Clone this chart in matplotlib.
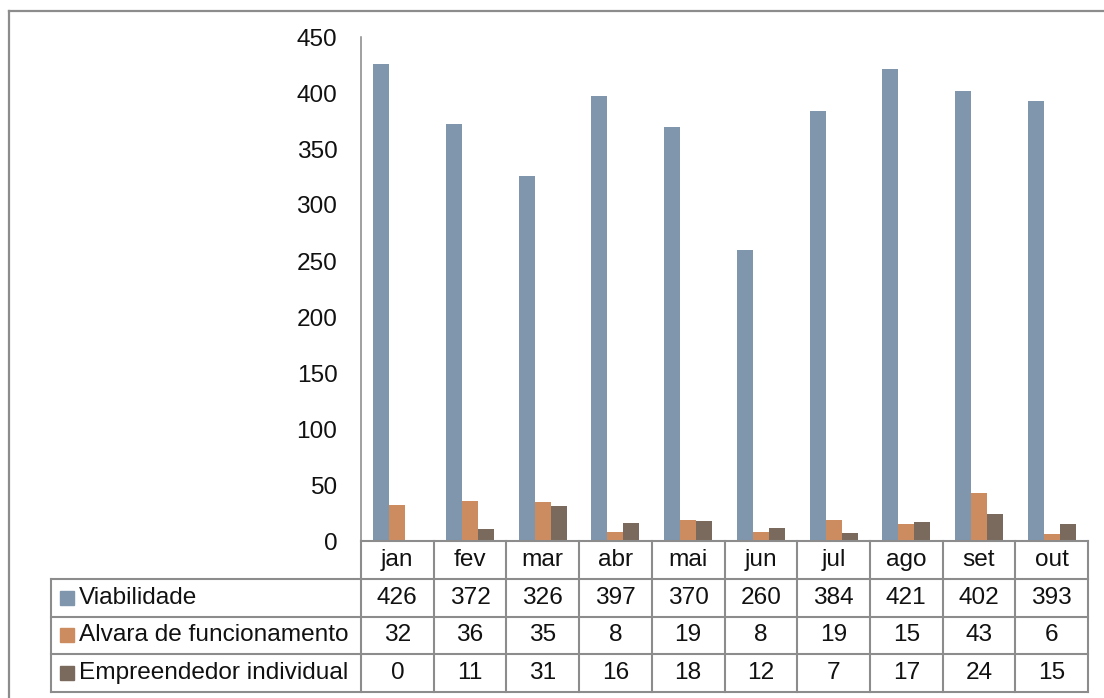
import matplotlib.pyplot as plt
from matplotlib.lines import Line2D

plt.rcParams['font.family'] = ['Liberation Sans', 'DejaVu Sans']

# dados
meses = ['jan', 'fev', 'mar', 'abr', 'mai', 'jun', 'jul', 'ago', 'set', 'out']
series = ['Viabilidade', 'Alvara de funcionamento', 'Empreendedor individual']
viabilidade = [426, 372, 326, 397, 370, 260, 384, 421, 402, 393]
alvara = [32, 36, 35, 8, 19, 8, 19, 15, 43, 6]
empreendedor = [0, 11, 31, 16, 18, 12, 7, 17, 24, 15]
cores = ['#7f96ad', '#cd8c5f', '#7a6a5e']

W, H = 1104, 698
fs = 17.6
fig = plt.figure(figsize=(W / 100, H / 100), dpi=100)

# area do grafico
ax = fig.add_axes([361 / W, 1 - 541 / H, 727 / W, 504 / H])
x = range(len(meses))
largura = 0.22
valores = [viabilidade, alvara, empreendedor]
for k, (vals, cor) in enumerate(zip(valores, cores)):
    ax.bar([i + (k - 1) * largura for i in x], vals, largura, color=cor)

ax.set_xlim(-0.5, len(meses) - 0.5)
ax.set_ylim(0, 450)
ax.set_yticks(range(0, 451, 50))
ax.set_xticks([])
ax.tick_params(axis='y', length=0, pad=17, labelsize=fs, labelcolor='#111111')
for s in ['top', 'right', 'bottom']:
    ax.spines[s].set_visible(False)
ax.spines['left'].set_color('#868686')
ax.spines['left'].set_linewidth(1.1)

# tabela de dados
cinza = '#8c8c8c'
esq = -0.5 - 310 / 72.7
tab = fig.add_axes([51 / W, 1 - 692 / H, 1037 / W, 151 / H])
tab.set_xlim(esq, len(meses) - 0.5)
tab.set_ylim(4, 0)
tab.axis('off')

n = len(meses)
tab.plot([-0.5, n - 0.5], [0, 0], color=cinza, lw=1.5, clip_on=False)
for r in range(1, 5):
    tab.plot([esq, n - 0.5], [r, r], color=cinza, lw=1.5, clip_on=False)
for c in range(n + 1):
    tab.plot([c - 0.5, c - 0.5], [0, 4], color=cinza, lw=1.5, clip_on=False)
tab.plot([esq, esq], [1, 4], color=cinza, lw=1.5, clip_on=False)

for i, m in enumerate(meses):
    tab.text(i, 0.5, m, ha='center', va='center', fontsize=fs, color='#111111')
for r, (nome, vals, cor) in enumerate(zip(series, valores, cores), start=1):
    tab.plot([esq + 0.215], [r + 0.5], marker='s', ms=9.5, color=cor,
             clip_on=False)
    tab.text(esq + 0.385, r + 0.5, nome, ha='left', va='center', fontsize=fs,
             color='#111111')
    for i, v in enumerate(vals):
        tab.text(i, r + 0.5, str(v), ha='center', va='center', fontsize=fs,
                 color='#111111')

# moldura externa
fig.add_artist(Line2D([8.5 / W, 1], [1 - 10.5 / H, 1 - 10.5 / H],
                      color=cinza, lw=1.6))
fig.add_artist(Line2D([8.5 / W, 8.5 / W], [0, 1 - 10.5 / H],
                      color=cinza, lw=1.6))

fig.savefig('out.png', dpi=100)
